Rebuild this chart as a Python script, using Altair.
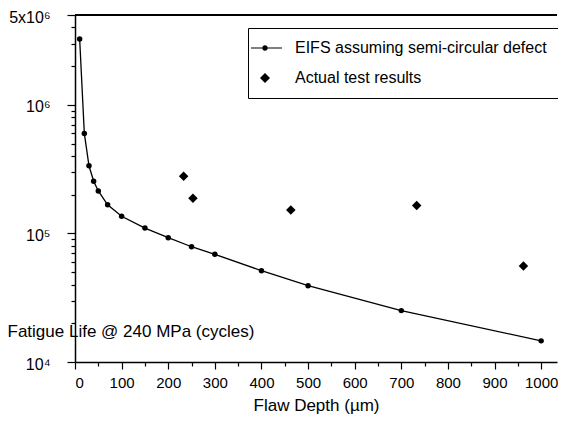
import altair as alt
import pandas as pd

# ---- data ----
eifs_depth = [10, 20, 30, 40, 50, 70, 100, 150, 200, 250, 300, 400, 500, 700, 1000]
eifs_life = [3.25e6, 6.0e5, 3.36e5, 2.55e5, 2.14e5, 1.67e5, 1.36e5, 1.10e5,
             9.26e4, 7.88e4, 6.88e4, 5.13e4, 3.92e4, 2.51e4, 1.46e4]
test_depth = [233, 253, 463, 733, 962]
test_life = [2.78e5, 1.88e5, 1.52e5, 1.65e5, 5.58e4]
series_names = ["EIFS assuming semi-circular defect", "Actual test results"]

x_ticks = list(range(0, 1001, 50))
y_ticks = [1e4, 2e4, 3e4, 4e4, 5e4, 6e4, 7e4, 8e4, 9e4,
           1e5, 2e5, 3e5, 4e5, 5e5, 6e5, 7e5, 8e5, 9e5,
           1e6, 2e6, 3e6, 4e6, 5e6]

FONT = "Liberation Sans"
W, H = 482, 347

eifs_df = pd.DataFrame({"depth": eifs_depth, "life": eifs_life, "series": series_names[0]})
test_df = pd.DataFrame({"depth": test_depth, "life": test_life, "series": series_names[1]})

x_enc = alt.X(
    "depth:Q",
    scale=alt.Scale(domain=[0, 1034], nice=False, zero=False),
    axis=alt.Axis(
        title="Flaw Depth (µm)",
        values=x_ticks,
        format="d",
        labelExpr="datum.value % 100 === 0 ? datum.label : ''",
        labelOverlap=False,
        grid=False,
        tickSize={"condition": {"test": "datum.value % 100 === 0", "value": 7}, "value": 4},
        tickColor="black",
        tickWidth=1.2,
        domainColor="black",
        domainWidth=1.5,
        labelFont=FONT,
        labelFontSize=15,
        labelColor="black",
        labelPadding=6,
        titleFont=FONT,
        titleFontSize=17,
        titleFontWeight="normal",
        titleColor="black",
        titleY=43,
        titleBaseline="middle",
    ),
)

y_enc = alt.Y(
    "life:Q",
    scale=alt.Scale(type="log", domain=[1e4, 5e6], nice=False),
    axis=alt.Axis(
        title="Fatigue Life @ 240 MPa (cycles)",
        values=y_ticks,
        labelExpr=("datum.value == 10000 ? '10⁴' : datum.value == 100000 ? '10⁵' : "
                   "datum.value == 1000000 ? '10⁶' : datum.value == 5000000 ? '5x10⁶' : ''"),
        labelOverlap=False,
        grid=False,
        tickSize={"condition": {"test": "indexof([10000, 100000, 1000000, 5000000], datum.value) >= 0",
                                "value": 8}, "value": 4},
        tickColor="black",
        tickWidth=1.2,
        domainColor="black",
        domainWidth=1.5,
        labelFont=FONT,
        labelFontSize=16,
        labelColor="black",
        labelPadding=17,
        labelOffset=2,
        titleFont=FONT,
        titleFontSize=17,
        titleFontWeight="normal",
        titleColor="black",
        titleAngle=0,
        titleAlign="left",
        titleBaseline="middle",
        titleX=-68,
        titleY=316,
    ),
)

top_line = alt.Chart(eifs_df).mark_rule(color="black", strokeWidth=1.5).encode(
    x=alt.value(0), x2=alt.value(W), y=alt.value(0)
)

line = alt.Chart(eifs_df).mark_line(color="black", strokeWidth=1.3).encode(
    x=x_enc, y=y_enc
)

dots = alt.Chart(eifs_df).mark_point(
    filled=True, color="black", size=30, shape="circle", opacity=1
).encode(x=x_enc, y=y_enc)

line_symbol = ("M-2.8,-0.12L3.4,-0.12L3.4,0.12L-2.8,0.12Z"
               "M-0.55,0A0.55,0.55 0 1,1 0.55,0A0.55,0.55 0 1,1 -0.55,0Z")

diamonds = alt.Chart(test_df).mark_point(
    filled=True, color="black", size=90, opacity=1
).encode(
    x=x_enc,
    y=y_enc,
    shape=alt.Shape(
        "series:N",
        scale=alt.Scale(domain=series_names, range=[line_symbol, "diamond"]),
        legend=alt.Legend(
            title=None,
            orient="none",
            legendX=173,
            legendY=13,
            fillColor="white",
            strokeColor="black",
            cornerRadius=0,
            padding=12,
            symbolSize=100,
            symbolFillColor="black",
            symbolStrokeWidth=0,
            symbolOffset=-3,
            labelFont=FONT,
            labelFontSize=16,
            labelColor="black",
            labelOffset=22,
            rowPadding=14,
            labelLimit=400,
        ),
    ),
)

chart = (
    alt.layer(top_line, line, dots, diamonds)
    .properties(
        width=W,
        height=H,
        autosize=alt.AutoSizeParams(type="none"),
        padding={"left": 67, "top": 7, "right": 1, "bottom": 53},
        background="white",
    )
    .configure_view(stroke=None)
)

chart.save("out.html", embed_options={"renderer": "svg", "actions": False})
